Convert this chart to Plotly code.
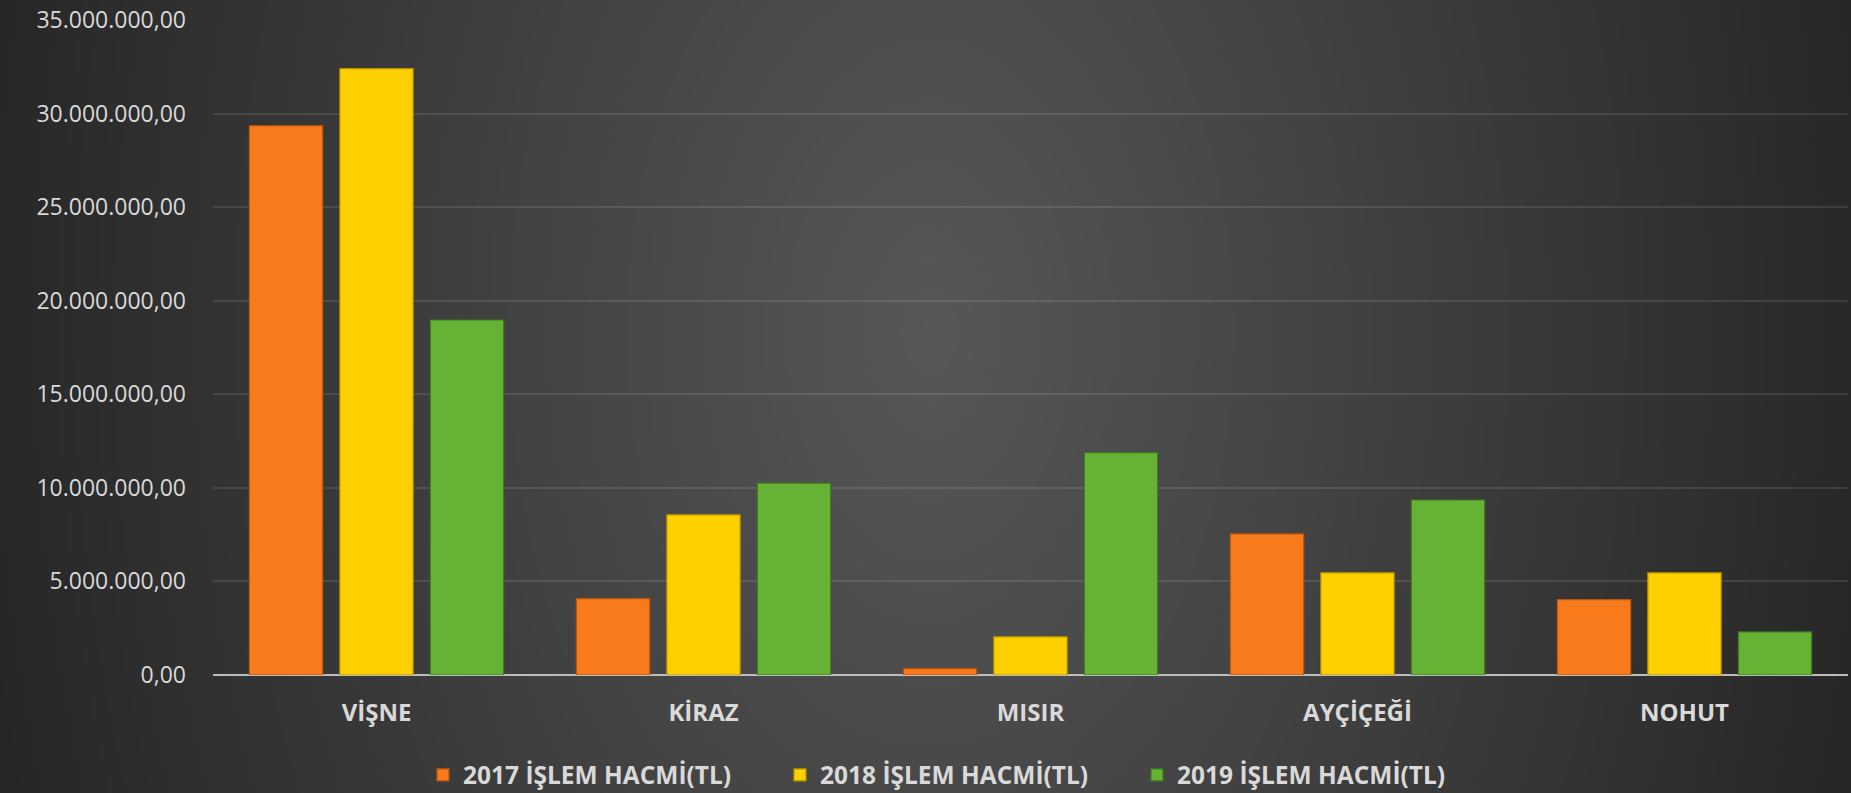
import base64
import struct
import zlib

import numpy as np
import plotly.graph_objects as go

# ---------------- data ----------------
categories = ["VİŞNE", "KİRAZ", "MISIR", "AYÇİÇEĞİ", "NOHUT"]
series_names = ["2017 İŞLEM HACMİ(TL)", "2018 İŞLEM HACMİ(TL)", "2019 İŞLEM HACMİ(TL)"]
values_2017 = [29350000, 4080000, 340000, 7540000, 4030000]
values_2018 = [32400000, 8560000, 2040000, 5460000, 5460000]
values_2019 = [18970000, 10250000, 11880000, 9350000, 2300000]
y_tick_values = [0, 5000000, 10000000, 15000000, 20000000, 25000000, 30000000, 35000000]

# ---------------- style ----------------
W, H = 1851, 793
ML, MR, MT, MB = 213, 3, 17, 118
fill_colors = ["#F87A1A", "#FFD000", "#66B235"]
line_colors = ["#B9560E", "#B99400", "#3F7A1E"]
text_color = "#D9D9D9"


def radial_background_png(w, h):
    xs = (np.arange(w) + 0.5) / w * W
    ys = (np.arange(h) + 0.5) / h * H
    X, Y = np.meshgrid(xs, ys)
    d = np.sqrt(((X - 930) / 960.0) ** 2 + ((Y - 330) / 1500.0) ** 2)
    d = np.clip(d, 0, 1)
    c = 0x57 - (0x57 - 0x26) * d
    img = np.clip(np.round(c), 0, 255).astype(np.uint8)
    raw = b"".join(b"\x00" + img[r].tobytes() for r in range(h))

    def chunk(t, data):
        out = struct.pack(">I", len(data)) + t + data
        return out + struct.pack(">I", zlib.crc32(t + data) & 0xFFFFFFFF)

    ihdr = struct.pack(">IIBBBBB", w, h, 8, 0, 0, 0, 0)
    png = b"\x89PNG\r\n\x1a\n" + chunk(b"IHDR", ihdr) + chunk(b"IDAT", zlib.compress(raw, 9)) + chunk(b"IEND", b"")
    return "data:image/png;base64," + base64.b64encode(png).decode()


bg_src = radial_background_png(463, 199)

fig = go.Figure()
for name, vals, fc, lc in zip(series_names, [values_2017, values_2018, values_2019], fill_colors, line_colors):
    fig.add_trace(go.Bar(
        name=name, x=categories, y=vals,
        marker=dict(color=fc, line=dict(color=lc, width=1.2)),
    ))

pw = W - ML - MR
ph = H - MT - MB
pad = 4
fig.add_layout_image(dict(
    source=bg_src, xref="paper", yref="paper",
    x=-(ML + pad) / pw, y=1 + (MT + pad) / ph,
    sizex=(W + 2 * pad) / pw, sizey=(H + 2 * pad) / ph,
    xanchor="left", yanchor="top", sizing="stretch", layer="below",
))

fig.update_layout(
    width=W, height=H,
    margin=dict(l=ML, r=MR, t=MT, b=MB, pad=0),
    paper_bgcolor="#2C2C2C",
    plot_bgcolor="rgba(0,0,0,0)",
    barmode="group",
    bargap=0.17,
    bargroupgap=0.19,
    separators=",.",
    showlegend=True,
    legend=dict(
        orientation="h",
        xref="container", yref="container",
        x=423 / W, xanchor="left",
        y=(H - 775) / H, yanchor="middle",
        font=dict(family="Open Sans", size=24.5, color=text_color, weight="bold"),
        bgcolor="rgba(0,0,0,0)",
        entrywidth=312, entrywidthmode="pixels",
        traceorder="normal",
    ),
    xaxis=dict(
        showgrid=False, showline=False, zeroline=False,
        tickfont=dict(family="Open Sans", size=24, color=text_color, weight="bold"),
        ticklabelstandoff=21,
    ),
    yaxis=dict(
        range=[0, 35000000],
        tickvals=y_tick_values,
        tickformat=",.2f",
        showgrid=True, gridcolor="rgba(255,255,255,0.10)", gridwidth=2,
        zeroline=True, zerolinecolor="#BDBDBD", zerolinewidth=2,
        showline=False,
        tickfont=dict(family="Open Sans", size=23, color=text_color),
        ticklabelstandoff=26,
    ),
)

fig.write_html(
    "out.html",
    config={"displayModeBar": False},
    post_script="document.body.style.margin='0';document.body.style.overflow='hidden';",
)
